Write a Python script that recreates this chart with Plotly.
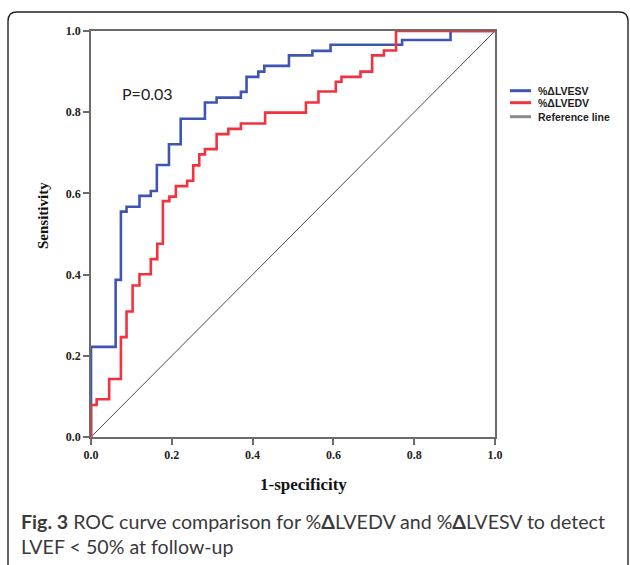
import plotly.graph_objects as go

# ---- data ----
esv_fpr = [0, 0, 0.061, 0.074, 0.088, 0.120, 0.148, 0.163, 0.193, 0.222, 0.282, 0.311,
           0.371, 0.385, 0.414, 0.429, 0.490, 0.548, 0.593, 0.770, 0.890, 1.0]
esv_tpr = [0, 0.222, 0.387, 0.555, 0.567, 0.594, 0.606, 0.670, 0.721, 0.784, 0.824, 0.836,
           0.850, 0.887, 0.900, 0.914, 0.940, 0.951, 0.966, 0.978, 1.0, 1.0]

edv_fpr = [0, 0, 0.014, 0.045, 0.074, 0.088, 0.103, 0.120, 0.148, 0.164, 0.178, 0.194,
           0.210, 0.238, 0.253, 0.268, 0.282, 0.311, 0.340, 0.371, 0.431, 0.532, 0.563,
           0.606, 0.620, 0.667, 0.696, 0.725, 0.755, 1.0]
edv_tpr = [0, 0.079, 0.093, 0.143, 0.246, 0.309, 0.373, 0.401, 0.438, 0.476, 0.581, 0.592,
           0.618, 0.631, 0.669, 0.696, 0.709, 0.746, 0.759, 0.772, 0.799, 0.824, 0.851,
           0.875, 0.887, 0.900, 0.940, 0.952, 1.0, 1.0]

ref_x = [0, 1]
ref_y = [0, 1]

tick_vals = [0.0, 0.2, 0.4, 0.6, 0.8, 1.0]
tick_text = ["0.0", "0.2", "0.4", "0.6", "0.8", "1.0"]

series_names = ["%ΔLVESV", "%ΔLVEDV", "Reference line"]
p_text = "P=0.03"
caption = ("<b>Fig. 3</b> ROC curve comparison for %<b>Δ</b>LVEDV and %<b>Δ</b>LVESV to detect"
           "<br>LVEF &lt; 50% at follow-up")

BLUE = "#3f55b2"
RED = "#f2323e"
GRAY = "#4a4a4a"

W, H = 630, 565
L, R, T, B = 91, 495, 31, 437


def px(x):
    return (x - L) / (R - L)


def py(y):
    return (B - y) / (B - T)


fig = go.Figure()
fig.add_trace(go.Scatter(x=ref_x, y=ref_y, mode="lines", line=dict(color=GRAY, width=1),
                         showlegend=False, hoverinfo="skip"))
fig.add_trace(go.Scatter(x=esv_fpr, y=esv_tpr, mode="lines", line_shape="hv",
                         line=dict(color=BLUE, width=2.6), cliponaxis=False,
                         name=series_names[0], showlegend=False))
fig.add_trace(go.Scatter(x=edv_fpr, y=edv_tpr, mode="lines", line_shape="hv",
                         line=dict(color=RED, width=2.6), cliponaxis=False,
                         name=series_names[1], showlegend=False))

axis_common = dict(range=[0, 1], showgrid=False, zeroline=False, showline=True, mirror=True,
                   linecolor="#6b6b6b", linewidth=1.5, ticks="outside", ticklen=6,
                   tickwidth=1.5, tickcolor="#6b6b6b", tickvals=tick_vals,
                   ticktext=[f"<b>{t}</b>" for t in tick_text],
                   tickfont=dict(family="Liberation Serif", size=12, color="#222"),
                   layer="below traces", fixedrange=True)
fig.update_xaxes(**axis_common)
fig.update_yaxes(**axis_common)

shapes = []
# legend line samples
leg_cols = [BLUE, RED, "#8a8a8a"]
leg_ys = [90.7, 102.7, 116.7]
for c, yy in zip(leg_cols, leg_ys):
    shapes.append(dict(type="line", xref="paper", yref="paper", x0=px(510), x1=px(531),
                       y0=py(yy), y1=py(yy), line=dict(color=c, width=3)))

# rounded outer frame
xl, xr, yt, yb, r = 8, 628, 12, 567, 9
path = (f"M {px(xl)},{py(yb)} L {px(xl)},{py(yt + r)} Q {px(xl)},{py(yt)} {px(xl + r)},{py(yt)} "
        f"L {px(xr - r)},{py(yt)} Q {px(xr)},{py(yt)} {px(xr)},{py(yt + r)} L {px(xr)},{py(yb)}")
shapes.append(dict(type="path", xref="paper", yref="paper", path=path,
                   line=dict(color="#222", width=1.4)))

annotations = []
for name, yy in zip(series_names, leg_ys):
    annotations.append(dict(text=f"<b>{name}</b>", xref="paper", yref="paper", x=px(536),
                            y=py(yy), xanchor="left", yanchor="middle", showarrow=False,
                            font=dict(family="Liberation Sans", size=10.5, color="#222")))
annotations.append(dict(text=p_text, xref="x", yref="y", x=0.141, y=0.847, showarrow=False,
                        xanchor="center", yanchor="middle",
                        font=dict(family="Lato", size=16, color="#222")))
annotations.append(dict(text="<b>1-specificity</b>", xref="paper", yref="paper", x=px(303.5),
                        y=py(484), showarrow=False, xanchor="center", yanchor="middle",
                        font=dict(family="Liberation Serif", size=17, color="#111")))
annotations.append(dict(text="<b>Sensitivity</b>", xref="paper", yref="paper", x=px(43),
                        y=py(216), showarrow=False, xanchor="center", yanchor="middle",
                        textangle=-90,
                        font=dict(family="Liberation Serif", size=15, color="#111")))
annotations.append(dict(text=caption, xref="paper", yref="paper", x=px(19), y=py(533.5),
                        showarrow=False, xanchor="left", yanchor="middle", align="left",
                        font=dict(family="Lato", size=19.6, color="#3a3a3a")))

fig.update_layout(width=W, height=H, margin=dict(l=L, r=W - R, t=T, b=H - B, pad=0),
                  paper_bgcolor="white", plot_bgcolor="white", showlegend=False,
                  shapes=shapes, annotations=annotations)

fig.write_html("out.html", config={"displayModeBar": False},
               post_script="document.body.style.margin='0px';")
